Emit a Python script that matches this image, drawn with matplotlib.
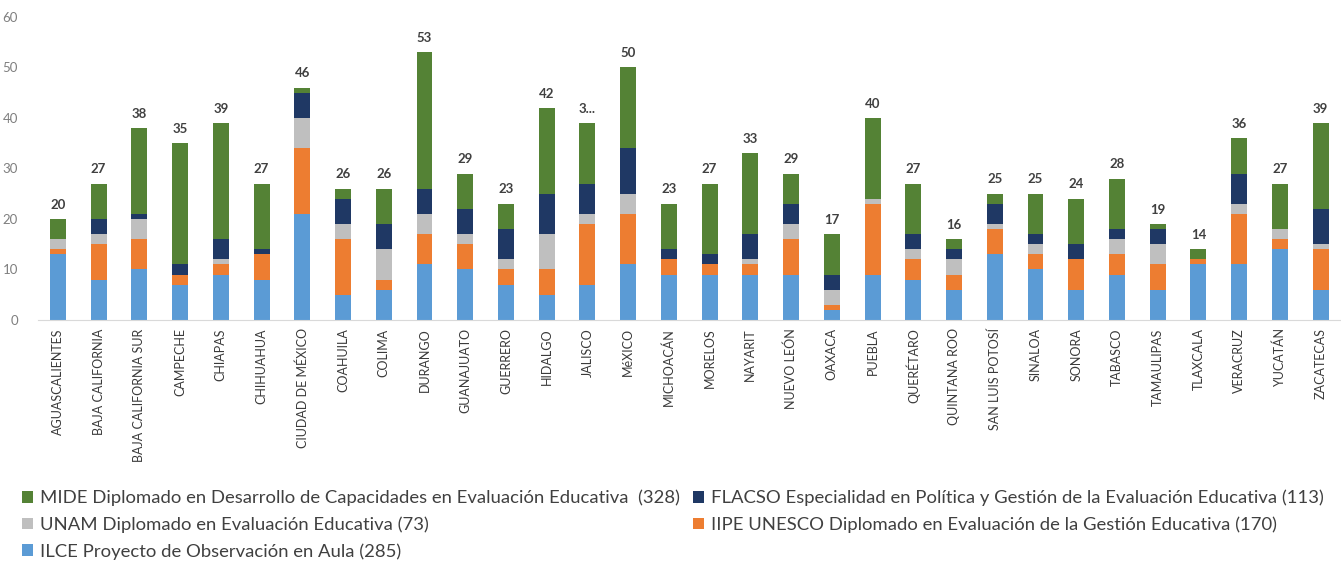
import numpy as np
import matplotlib
matplotlib.use("Agg")
import matplotlib.pyplot as plt

plt.rcParams['font.family'] = ['Lato', 'DejaVu Sans']

estados = ["AGUASCALIENTES", "BAJA CALIFORNIA", "BAJA CALIFORNIA SUR", "CAMPECHE",
           "CHIAPAS", "CHIHUAHUA", "CIUDAD DE MÉXICO", "COAHUILA", "COLIMA", "DURANGO",
           "GUANAJUATO", "GUERRERO", "HIDALGO", "JALISCO", "MéXICO", "MICHOACÁN",
           "MORELOS", "NAYARIT", "NUEVO LEÓN", "OAXACA", "PUEBLA", "QUERÉTARO",
           "QUINTANA ROO", "SAN LUIS POTOSÍ", "SINALOA", "SONORA", "TABASCO",
           "TAMAULIPAS", "TLAXCALA", "VERACRUZ", "YUCATÁN", "ZACATECAS"]

# stacked from the bottom up
ilce = [13, 8, 10, 7, 9, 8, 21, 5, 6, 11, 10, 7, 5, 7, 11, 9, 9, 9, 9, 2, 9, 8, 6, 13, 10, 6, 9, 6, 11, 11, 14, 6]
iipe = [1, 7, 6, 2, 2, 5, 13, 11, 2, 6, 5, 3, 5, 12, 10, 3, 2, 2, 7, 1, 14, 4, 3, 5, 3, 6, 4, 5, 1, 10, 2, 8]
unam = [2, 2, 4, 0, 1, 0, 6, 3, 6, 4, 2, 2, 7, 2, 4, 0, 0, 1, 3, 3, 1, 2, 3, 1, 2, 0, 3, 4, 0, 2, 2, 1]
flacso = [0, 3, 1, 2, 4, 1, 5, 5, 5, 5, 5, 6, 8, 6, 9, 2, 2, 5, 4, 3, 0, 3, 2, 4, 2, 3, 2, 3, 0, 6, 0, 7]
mide = [4, 7, 17, 24, 23, 13, 1, 2, 7, 27, 7, 5, 17, 12, 16, 9, 14, 16, 6, 8, 16, 10, 2, 2, 8, 9, 10, 1, 2, 7, 9, 17]

nombres = {
    "mide": "MIDE Diplomado en Desarrollo de Capacidades en Evaluación Educativa  (328)",
    "flacso": "FLACSO Especialidad en Política y Gestión de la Evaluación Educativa (113)",
    "unam": "UNAM Diplomado en Evaluación Educativa (73)",
    "iipe": "IIPE UNESCO Diplomado en Evaluación de la Gestión Educativa (170)",
    "ilce": "ILCE Proyecto de Observación en Aula (285)",
}

colores = {"ilce": "#5B9BD5", "iipe": "#ED7D31", "unam": "#BFBFBF",
           "flacso": "#1F3864", "mide": "#548235"}

fig = plt.figure(figsize=(13.41, 5.64), dpi=100)
ax = fig.add_axes([0.028, 0.4326, 0.972, 0.5374])

x = np.arange(len(estados))
series = [("ilce", ilce), ("iipe", iipe), ("unam", unam), ("flacso", flacso), ("mide", mide)]
bottom = np.zeros(len(estados))
barras = {}
for key, vals in series:
    barras[key] = ax.bar(x, vals, width=0.39, bottom=bottom, color=colores[key],
                         label=nombres[key], zorder=2)
    bottom += np.array(vals)

totales = bottom.astype(int)
for i, t in enumerate(totales):
    txt = "3..." if estados[i] == "JALISCO" else str(t)
    ax.annotate(txt, (x[i], t), xytext=(0, 6), textcoords="offset points",
                ha="center", va="bottom", fontsize=9.5, fontweight="bold", color="#404040")

ax.set_xlim(-0.5, len(estados) - 0.5)
ax.set_ylim(0, 60)
ax.set_yticks(range(0, 61, 10))
ax.set_xticks(x)
ax.set_xticklabels(estados, rotation=90, fontsize=9, color="#3A3A3A")
ax.tick_params(axis="y", labelsize=9.5, colors="#7F7F7F", length=0, pad=14)
ax.tick_params(axis="x", length=0, pad=6)
for s in ["top", "right", "left"]:
    ax.spines[s].set_visible(False)
ax.spines["bottom"].set_color("#D9D9D9")

# legend: column-major fill gives rows MIDE/FLACSO, UNAM/IIPE, ILCE
orden = ["mide", "unam", "ilce", "flacso", "iipe"]
fig.legend([barras[k] for k in orden], [nombres[k] for k in orden],
           loc="upper left", bbox_to_anchor=(0.004, 0.161), ncol=2,
           frameon=False, fontsize=13.3, handlelength=0.6, handleheight=0.6,
           handletextpad=0.35, columnspacing=0.75, labelspacing=0.55,
           labelcolor="#404040")

fig.savefig("out.png", dpi=100)
